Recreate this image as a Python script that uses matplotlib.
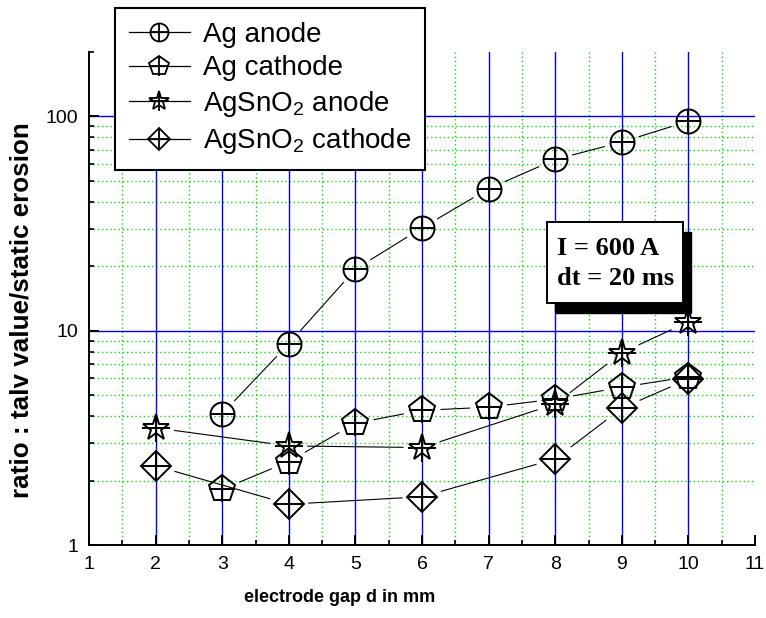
import numpy as np
import matplotlib
matplotlib.use('Agg')
import matplotlib.pyplot as plt
from matplotlib.lines import Line2D
from matplotlib.legend_handler import HandlerTuple
from matplotlib.patches import Rectangle
from matplotlib.ticker import FixedLocator, NullFormatter

plt.rcParams['font.family'] = ['Liberation Sans', 'DejaVu Sans']
plt.rcParams['mathtext.fontset'] = 'custom'
plt.rcParams['mathtext.rm'] = 'Liberation Sans'
plt.rcParams['mathtext.default'] = 'regular'

# ---- data ----
x_ag = [3, 4, 5, 6, 7, 8, 9, 10]
ag_anode = [4.1, 8.7, 19.4, 30.2, 46, 63, 76, 95]
ag_cathode = [1.82, 2.45, 3.7, 4.25, 4.4, 4.8, 5.45, 6.1]
x_sn = [2, 4, 6, 8, 9, 10]
sn_anode = [3.52, 2.9, 2.85, 4.55, 7.9, 11.0]
sn_cathode = [2.34, 1.55, 1.68, 2.52, 4.35, 5.95]
labels = ['Ag anode', 'Ag cathode', 'AgSnO$_2$ anode', 'AgSnO$_2$ cathode']
x_ticks = [1, 2, 3, 4, 5, 6, 7, 8, 9, 10, 11]
y_ticks = [1, 10, 100]
y_ticklabels = ['1', '10', '100']

W, H = 766, 618
fig = plt.figure(figsize=(W / 100, H / 100), dpi=100)
ax = fig.add_axes([89 / W, 1 - 545 / H, (755 - 89) / W, (545 - 52) / H])
ax.set_xlim(1, 11)
ax.set_yscale('log')
ax.set_ylim(1, 200)

# grid (manual)
for gx in np.arange(1.5, 11, 1.0):
    ax.axvline(gx, color='#00e000', ls=(0, (1, 2)), lw=1.0, zorder=0.5)
for gy in [v * d for d in (1, 10) for v in range(2, 10)]:
    ax.axhline(gy, color='#00e000', ls=(0, (1, 2)), lw=1.0, zorder=0.5)
for gx in range(2, 11):
    ax.axvline(gx, color='#0000ff', lw=1.0, zorder=0.6)
for gy in [10, 100]:
    ax.axhline(gy, color='#0000ff', lw=1.0, zorder=0.6)

ax.set_xticks(x_ticks)
ax.set_xticklabels([str(v) for v in x_ticks])
ax.xaxis.set_minor_locator(FixedLocator(np.arange(1.5, 11, 1.0)))
ax.set_yticks(y_ticks)
ax.set_yticklabels(y_ticklabels)
ax.yaxis.set_minor_locator(FixedLocator([v * d for d in (1, 10, 100) for v in range(2, 10) if v * d <= 200]))
ax.yaxis.set_minor_formatter(NullFormatter())
ax.tick_params(which='major', direction='in', length=7, width=1.4, labelsize=14, pad=8)
ax.tick_params(which='minor', direction='in', length=3.6, width=1.2)
for s in ['top', 'right']:
    ax.spines[s].set_visible(False)
for s in ['left', 'bottom']:
    ax.spines[s].set_linewidth(1.4)
    ax.spines[s].set_zorder(5)

series = [
    (x_ag, ag_anode, 'o', 17.3, 17.3, 18),
    (x_ag, ag_cathode, 'p', 19.5, 18.5, 19),
    (x_sn, sn_anode, '*', 20.0, 20.0, 19),
    (x_sn, sn_cathode, 'D', 15.0, 21.5, 20),
]

def gapped(xs, ys, gap):
    pts = ax.transData.transform(np.column_stack([xs, ys]))
    inv = ax.transData.inverted()
    for p, q in zip(pts[:-1], pts[1:]):
        d = q - p
        L = np.hypot(d[0], d[1])
        if L <= 2 * gap:
            continue
        u = d / L
        a = inv.transform(p + u * gap)
        b = inv.transform(q - u * gap)
        ax.plot([a[0], b[0]], [a[1], b[1]], color='k', lw=0.8, zorder=3)

handles = []
for xs, ys, m, ms, ps, gap in series:
    gapped(xs, ys, gap)
    ax.plot(xs, ys, ls='none', marker=m, ms=ms, mfc='none', mec='k', mew=1.4, zorder=4)
    ax.plot(xs, ys, ls='none', marker='+', ms=ps, mec='k', mew=1.4, zorder=4)
    h1 = Line2D([], [], color='k', lw=0.9, marker=m, ms=ms * 0.75, mfc='none', mec='k', mew=1.3)
    h2 = Line2D([], [], ls='none', marker='+', ms=ps * 0.75, mec='k', mew=1.3)
    handles.append((h1, h2))

leg = fig.legend(handles, labels, loc='upper left', bbox_to_anchor=(115 / W, 1 - 8 / H),
                 bbox_transform=fig.transFigure, borderaxespad=0, fontsize=20,
                 handler_map={tuple: HandlerTuple(ndivide=1, pad=0)},
                 handlelength=2.2, handletextpad=0.46, labelspacing=0.27, borderpad=0.5,
                 fancybox=False, framealpha=1, edgecolor='k')
leg.get_frame().set_linewidth(1.5)
leg.set_zorder(10)

# annotation box with shadow
fig.patches.append(Rectangle((555 / W, 1 - 313 / H), 136 / W, 81 / H, transform=fig.transFigure,
                             facecolor='black', edgecolor='black', zorder=8))
fig.patches.append(Rectangle((547 / W, 1 - 303 / H), 136 / W, 81 / H, transform=fig.transFigure,
                             facecolor='white', edgecolor='black', lw=1.4, zorder=9))
fig.text(557 / W, 1 - 255 / H, 'I = 600 A', family='Liberation Serif', fontweight='bold',
         fontsize=19, va='baseline', ha='left', zorder=10)
fig.text(557 / W, 1 - 285 / H, 'dt = 20 ms', family='Liberation Serif', fontweight='bold',
         fontsize=19, va='baseline', ha='left', zorder=10)

fig.text(340 / W, 1 - 597 / H, 'electrode gap d in mm', fontsize=13, fontweight='bold',
         ha='center', va='center')
fig.text(22 / W, 1 - 310 / H, 'ratio : talv value/static erosion', fontsize=18.7, fontweight='bold',
         ha='center', va='center', rotation=90)

fig.savefig('out.png', dpi=100)
